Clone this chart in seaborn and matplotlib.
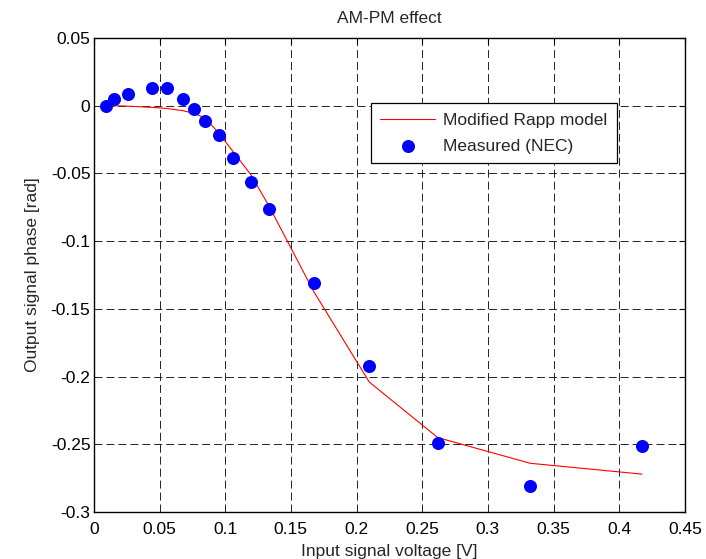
import numpy as np
import pandas as pd
import matplotlib
matplotlib.use('Agg')
import matplotlib.pyplot as plt
import seaborn as sns

# ── Data ────────────────────────────────────────────────────
input_voltage = [0.0089, 0.0150, 0.0257, 0.0442, 0.0553, 0.0680, 0.0762, 0.0845,
                 0.0950, 0.1061, 0.1196, 0.1333, 0.1673, 0.2097, 0.2618, 0.3323, 0.4174]
phase_measured = [0.0, 0.0049, 0.0084, 0.0131, 0.0131, 0.0049, -0.0024, -0.0111,
                  -0.0216, -0.0389, -0.0561, -0.0765, -0.1307, -0.1920, -0.2491, -0.2809, -0.2513]
phase_model = [0.0, 0.0, -0.0003, -0.0012, -0.0020, -0.0037, -0.0056, -0.0090,
               -0.0200, -0.0340, -0.0510, -0.0740, -0.1370, -0.2040, -0.2450, -0.2640, -0.2720]

x_ticks = [0, 0.05, 0.1, 0.15, 0.2, 0.25, 0.3, 0.35, 0.4, 0.45]
x_tick_labels = ['0', '0.05', '0.1', '0.15', '0.2', '0.25', '0.3', '0.35', '0.4', '0.45']
y_ticks = [-0.3, -0.25, -0.2, -0.15, -0.1, -0.05, 0, 0.05]
y_tick_labels = ['-0.3', '-0.25', '-0.2', '-0.15', '-0.1', '-0.05', '0', '0.05']

df = pd.DataFrame({
    'voltage': input_voltage,
    'measured': phase_measured,
    'model': phase_model,
})

FS = 12.5

sns.set_style("white")
plt.rcParams['font.family'] = ['Liberation Sans', 'DejaVu Sans']
plt.rcParams['font.size'] = FS

fig, ax = plt.subplots(figsize=(7.06, 5.59), dpi=100)
fig.subplots_adjust(left=0.133, right=0.970, top=0.932, bottom=0.084)

sns.lineplot(data=df, x='voltage', y='model', ax=ax, color='red', linewidth=0.8,
             sort=False, estimator=None, label='Modified Rapp model')
sns.scatterplot(data=df, x='voltage', y='measured', ax=ax, color='blue', s=88,
                linewidth=0, label='Measured (NEC)', zorder=3)

ax.set_xlim(0, 0.45)
ax.set_ylim(-0.3, 0.05)
ax.set_xticks(x_ticks)
ax.set_xticklabels(x_tick_labels)
ax.set_yticks(y_ticks)
ax.set_yticklabels(y_tick_labels)

# MATLAB-like dashed black grid
ax.grid(True, color='#222222', linestyle=(0, (8.2, 4.1)), linewidth=0.7)
ax.set_axisbelow(True)
for sp in ax.spines.values():
    sp.set_color('black')
    sp.set_linewidth(1.0)
ax.tick_params(direction='in', length=4, width=0.8, top=True, right=True,
               labelsize=FS, colors='black')
ax.tick_params(axis='y', pad=2.5)
ax.tick_params(axis='x', pad=7)

ax.set_title('AM-PM effect', fontsize=FS, pad=11)
ax.set_xlabel('Input signal voltage [V]', fontsize=FS, labelpad=5)
ax.set_ylabel('Output signal phase [rad]', fontsize=FS, labelpad=8)

leg = ax.legend(loc='upper left', bbox_to_anchor=(0.4687, 0.8629), borderaxespad=0,
                fancybox=False, framealpha=1, edgecolor='black', fontsize=FS,
                handlelength=3.15, borderpad=0.55, labelspacing=0.62,
                handletextpad=0.45)
leg.get_frame().set_linewidth(0.9)

fig.savefig('out.png', dpi=100)
